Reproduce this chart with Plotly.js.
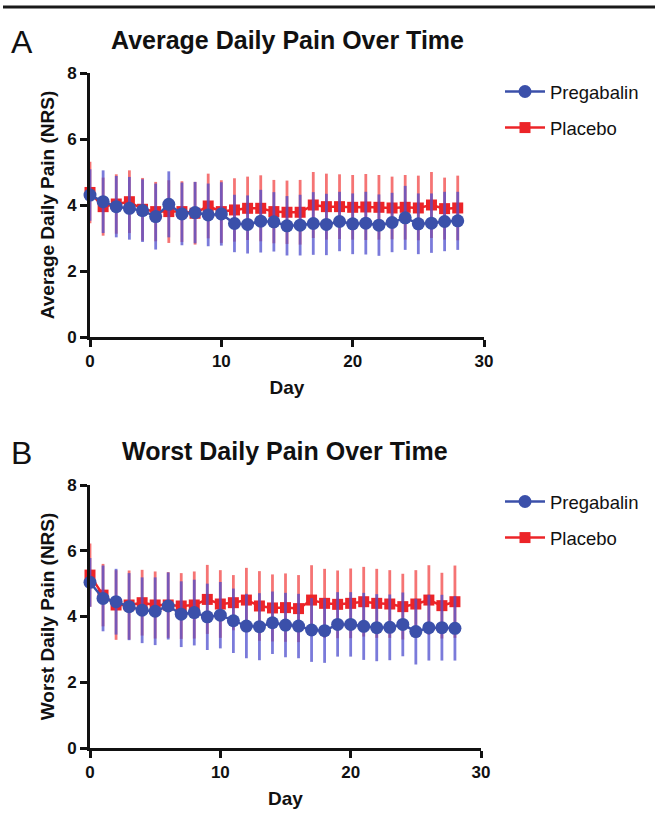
<!DOCTYPE html>
<html>
<head>
<meta charset="utf-8">
<script src="https://cdn.plot.ly/plotly-3.0.1.min.js"></script>
<style>html,body{margin:0;padding:0;background:#fff;}#chart{width:655px;height:814px;}</style>
</head>
<body>
<div id="chart"></div>
<script>
const days = [0,1,2,3,4,5,6,7,8,9,10,11,12,13,14,15,16,17,18,19,20,21,22,23,24,25,26,27,28];

const avgPregabalin = [4.30,4.10,3.95,3.90,3.83,3.65,4.02,3.73,3.77,3.70,3.73,3.44,3.41,3.51,3.49,3.37,3.39,3.44,3.41,3.50,3.43,3.45,3.39,3.47,3.61,3.43,3.45,3.50,3.52];
const avgPregabalinSD = [0.78,0.95,0.93,0.95,0.95,1.00,1.00,0.95,0.93,0.95,0.96,0.87,0.88,0.95,0.90,0.90,0.92,0.95,0.93,0.90,0.92,0.95,0.93,0.90,0.97,0.92,0.90,0.90,0.88];
const avgPlacebo = [4.38,3.95,4.03,4.10,3.87,3.80,3.80,3.80,3.75,3.97,3.80,3.85,3.90,3.90,3.80,3.78,3.78,4.00,3.95,3.95,3.93,3.94,3.93,3.91,3.93,3.91,4.00,3.89,3.91];
const avgPlaceboSD = [0.93,0.88,0.90,0.95,0.95,0.90,0.95,0.92,0.95,0.98,0.95,0.96,0.96,1.00,0.96,0.96,0.98,1.00,1.00,0.98,0.98,1.00,0.98,0.95,0.98,0.98,1.00,0.94,0.98];

const worstPregabalin = [5.04,4.55,4.45,4.30,4.19,4.16,4.32,4.07,4.12,3.99,4.04,3.87,3.71,3.69,3.81,3.74,3.71,3.59,3.57,3.76,3.76,3.70,3.66,3.67,3.76,3.54,3.66,3.66,3.64];
const worstPregabalinSD = [0.74,1.00,1.00,1.02,1.00,1.03,1.02,1.00,1.00,1.01,1.01,0.98,0.98,1.02,0.95,0.98,0.98,0.97,0.98,0.98,0.98,1.02,1.02,1.00,0.97,1.00,1.00,1.00,0.98];
const worstPlacebo = [5.26,4.65,4.35,4.35,4.42,4.35,4.35,4.32,4.35,4.52,4.38,4.42,4.50,4.32,4.26,4.27,4.24,4.50,4.40,4.37,4.40,4.45,4.40,4.38,4.30,4.38,4.50,4.33,4.45];
const worstPlaceboSD = [0.96,0.95,1.06,1.05,1.00,1.02,1.00,1.00,1.02,1.05,1.03,0.84,0.98,1.06,1.02,1.04,1.02,1.06,1.05,1.03,1.06,1.06,1.05,1.03,1.00,1.03,1.06,1.00,1.10];

const seriesNames = ["Pregabalin", "Placebo"];
const panelTitles = ["Average Daily Pain Over Time", "Worst Daily Pain Over Time"];
const panelLetters = ["A", "B"];
const yTitles = ["Average Daily Pain (NRS)", "Worst Daily Pain (NRS)"];
const xTitle = "Day";
const yTicks = [0,2,4,6,8];
const xTicks = [0,10,20,30];

const BLUE = "rgb(59,80,170)";
const RED = "rgb(236,36,40)";
const BLUE_ERR = "rgba(78,78,205,0.75)";
const RED_ERR = "rgba(242,70,70,0.75)";
const FONT = "Liberation Sans, Arial, sans-serif";

function mk(name, y, sd, color, errColor, symbol, xa, ya, legend, rank) {
  return {
    type: "scatter", mode: "lines+markers", name: name, x: days, y: y,
    xaxis: xa, yaxis: ya, legend: legend, legendrank: rank, legendgroup: legend + name,
    cliponaxis: false,
    line: {color: color, width: 2.5},
    marker: {color: color, symbol: symbol, size: symbol === "square" ? 11 : 13},
    error_y: {type: "data", array: sd, visible: true, color: errColor, thickness: 2.8, width: 0}
  };
}

const data = [
  mk(seriesNames[1], avgPlacebo, avgPlaceboSD, RED, RED_ERR, "square", "x", "y", "legend", 2),
  mk(seriesNames[0], avgPregabalin, avgPregabalinSD, BLUE, BLUE_ERR, "circle", "x", "y", "legend", 1),
  mk(seriesNames[1], worstPlacebo, worstPlaceboSD, RED, RED_ERR, "square", "x2", "y2", "legend2", 2),
  mk(seriesNames[0], worstPregabalin, worstPregabalinSD, BLUE, BLUE_ERR, "circle", "x2", "y2", "legend2", 1)
];

const W = 655, H = 814;
function xa(domain, anchor) {
  return {
    domain: domain, anchor: anchor, range: [0, 30], tickvals: xTicks, ticktext: xTicks.map(String),
    showgrid: false, zeroline: false, showline: true, linecolor: "#111", linewidth: 3,
    ticks: "outside", ticklen: 7, tickwidth: 3, tickcolor: "#111",
    tickfont: {family: FONT, size: 17, color: "#111", weight: "bold"},
    title: {text: xTitle, font: {family: FONT, size: 19, color: "#111", weight: "bold"}, standoff: 11},
    fixedrange: true
  };
}
function ya(domain, anchor, title) {
  return {
    domain: domain, anchor: anchor, range: [0, 8], tickvals: yTicks, ticktext: yTicks.map(String),
    showgrid: false, zeroline: false, showline: true, linecolor: "#111", linewidth: 3,
    ticks: "outside", ticklen: 7, tickwidth: 3, tickcolor: "#111",
    tickfont: {family: FONT, size: 17, color: "#111", weight: "bold"},
    title: {text: title, font: {family: FONT, size: 19, color: "#111", weight: "bold"}, standoff: 8},
    fixedrange: true
  };
}

const legendStyle = {
  xanchor: "left", yanchor: "top", bgcolor: "rgba(0,0,0,0)",
  font: {family: FONT, size: 18.5, color: "#111"}, tracegroupgap: 9, itemwidth: 40
};

const layout = {
  width: W, height: H, margin: {l: 0, r: 0, t: 0, b: 0},
  paper_bgcolor: "#fff", plot_bgcolor: "#fff", showlegend: true,
  xaxis: xa([90/W, 484/W], "y"),
  yaxis: ya([1-337/H, 1-73/H], "x", yTitles[0]),
  xaxis2: xa([90/W, 481/W], "y2"),
  yaxis2: ya([1-748/H, 1-485/H], "x2", yTitles[1]),
  legend: Object.assign({x: 500/W, y: 1-73/H}, legendStyle),
  legend2: Object.assign({x: 500/W, y: 1-483/H}, legendStyle),
  shapes: [
    {type: "line", xref: "paper", yref: "paper", x0: 3/W, x1: 1, y0: 1-7/H, y1: 1-7/H,
     line: {color: "#1a1a1a", width: 3}}
  ],
  annotations: [
    {text: panelLetters[0], xref: "paper", yref: "paper", x: 9/W, y: 1-42/H, xanchor: "left", yanchor: "middle",
     showarrow: false, font: {family: FONT, size: 32, color: "#111"}},
    {text: panelTitles[0], xref: "paper", yref: "paper", x: 287/W, y: 1-40/H, xanchor: "center", yanchor: "middle",
     showarrow: false, font: {family: FONT, size: 25, color: "#111", weight: "bold"}},
    {text: panelLetters[1], xref: "paper", yref: "paper", x: 9/W, y: 1-453/H, xanchor: "left", yanchor: "middle",
     showarrow: false, font: {family: FONT, size: 32, color: "#111"}},
    {text: panelTitles[1], xref: "paper", yref: "paper", x: 285/W, y: 1-451/H, xanchor: "center", yanchor: "middle",
     showarrow: false, font: {family: FONT, size: 25, color: "#111", weight: "bold"}}
  ]
};

Plotly.newPlot("chart", data, layout, {staticPlot: true, displayModeBar: false});
</script>
</body>
</html>
